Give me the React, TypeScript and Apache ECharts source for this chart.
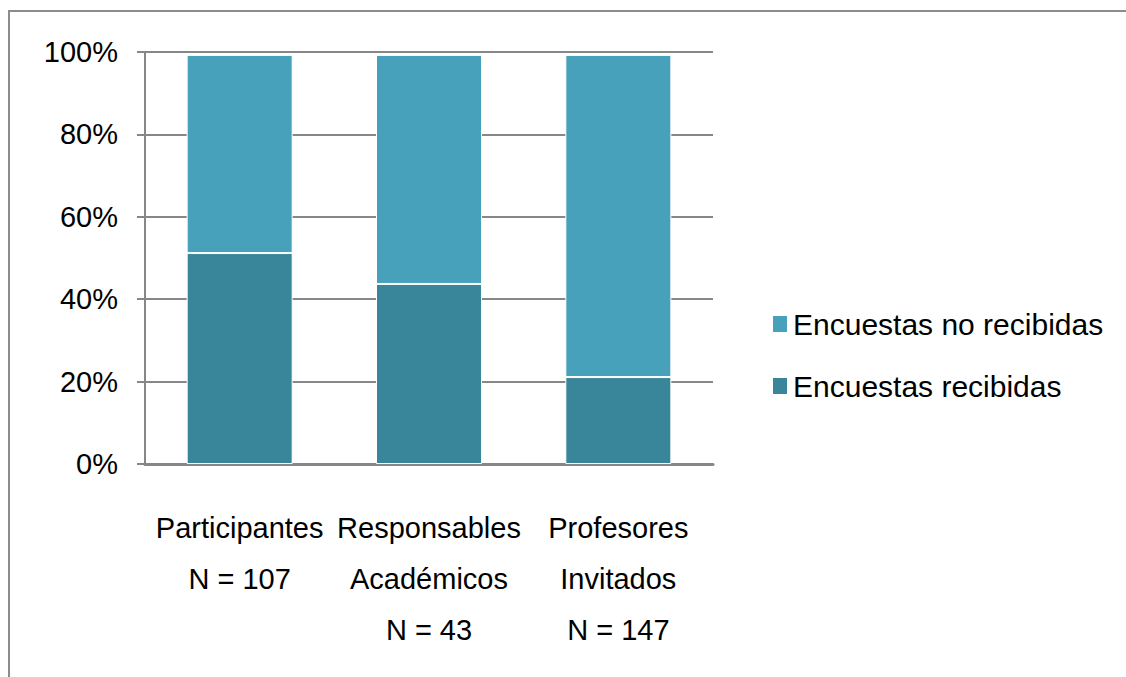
import React, { useEffect, useRef } from "react";
import * as echarts from "echarts";

const categories = [
  "Participantes\nN = 107",
  "Responsables\nAcadémicos\nN = 43",
  "Profesores\nInvitados\nN = 147",
];
const recibidas = [51.2, 43.7, 21.1];
const noRecibidas = [48.1, 55.6, 78.2];
const yTicks = [0, 20, 40, 60, 80, 100];

const FONT = "'Liberation Sans', Arial, sans-serif";

export default function App() {
  const ref = useRef<HTMLDivElement>(null);
  useEffect(() => {
    document.body.style.margin = "0";
    const chart = echarts.init(ref.current!, null, { renderer: "svg" });
    chart.setOption({
      animation: false,
      backgroundColor: "#ffffff",
      textStyle: { fontFamily: FONT },
      grid: { left: 145, right: 413, top: 52, bottom: 213 },
      legend: {
        orient: "vertical",
        left: 766,
        top: 302,
        itemWidth: 16,
        itemHeight: 18,
        itemGap: 28,
        icon: "rect",
        data: ["Encuestas no recibidas", "Encuestas recibidas"],
        textStyle: { fontSize: 30, color: "#000", fontFamily: FONT, lineHeight: 30, padding: [4, 0, 0, 0] },
      },
      xAxis: {
        type: "category",
        data: categories,
        axisLine: { lineStyle: { color: "#878787", width: 3 } },
        axisTick: { show: false },
        axisLabel: {
          fontSize: 29,
          color: "#000",
          lineHeight: 51,
          margin: 38,
          interval: 0,
          fontFamily: FONT,
        },
      },
      yAxis: {
        type: "value",
        min: 0,
        max: 100,
        interval: 20,
        axisLine: { show: true, lineStyle: { color: "#878787", width: 2 } },
        axisTick: { show: true, length: 8, lineStyle: { color: "#878787", width: 2 } },
        splitLine: { lineStyle: { color: "#878787", width: 2 } },
        axisLabel: {
          fontSize: 29,
          color: "#000",
          margin: 27,
          fontFamily: FONT,
          formatter: (v: number) => (yTicks.includes(v) ? v + "%" : ""),
        },
      },
      series: [
        {
          name: "Encuestas recibidas",
          type: "bar",
          stack: "total",
          data: recibidas,
          barWidth: "56%",
          itemStyle: { color: "#398599", borderColor: "#ffffff", borderWidth: 1 },
        },
        {
          name: "Encuestas no recibidas",
          type: "bar",
          stack: "total",
          data: noRecibidas,
          barWidth: "56%",
          itemStyle: { color: "#48a1ba", borderColor: "#ffffff", borderWidth: 1 },
        },
      ],
      graphic: [
        {
          type: "rect",
          shape: { x: 9, y: 11, width: 1140, height: 700 },
          style: { fill: "none", stroke: "#8c8c8c", lineWidth: 2 },
          silent: true,
        },
      ],
    });
    return () => chart.dispose();
  }, []);
  return <div ref={ref} style={{ width: 1126, height: 677 }} />;
}
